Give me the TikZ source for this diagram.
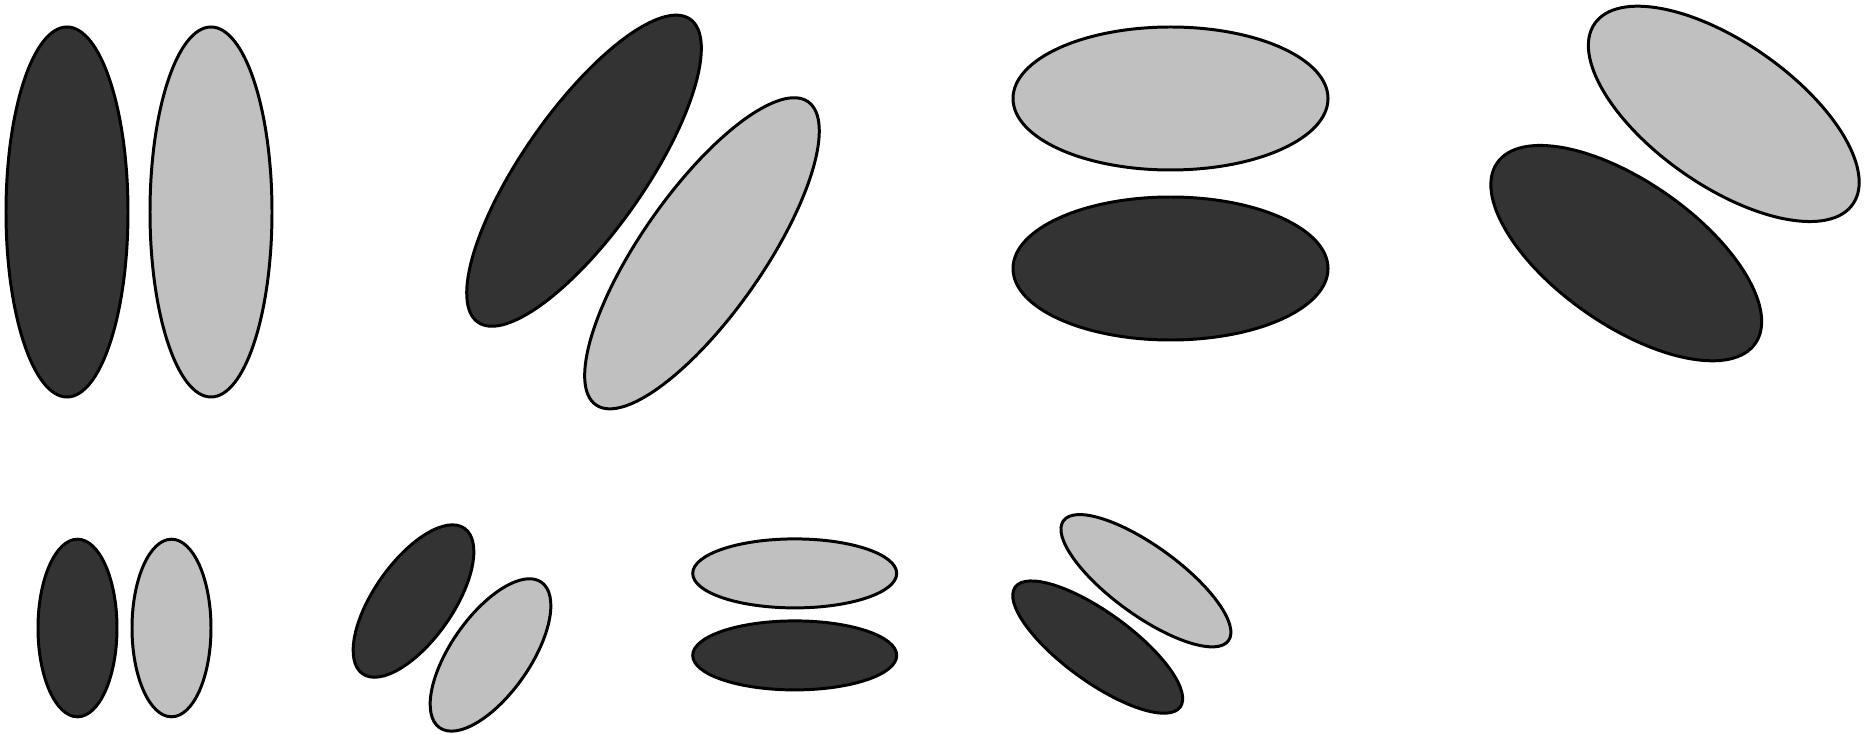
\documentclass[tikz,border=0pt]{standalone}
\usepackage{tikz}

\definecolor{lobedark}{HTML}{333333}
\definecolor{lobelight}{HTML}{C0C0C0}

\tikzset{
  darklobe/.style={draw=black, fill=lobedark, line width=0.85pt},
  lightlobe/.style={draw=black, fill=lobelight, line width=0.85pt}
}

\begin{document}
\begin{tikzpicture}
  % Page frame (keeps the margins)
  \useasboundingbox (0,0) rectangle (18.71,7.33);

  % Large lobes, side by side: upright and tilted
  \foreach \cx/\cy/\ang in {1.39/5.21/0, 6.43/5.21/-35} {
    \begin{scope}[shift={(\cx,\cy)}, rotate=\ang]
      \draw[darklobe] (-0.72,0) ellipse (0.61 and 1.85);
      \draw[lightlobe] (0.72,0) ellipse (0.61 and 1.85);
    \end{scope}
  }

  % Large lobes, stacked: flat and tilted
  \foreach \cx/\cy/\ang in {11.705/5.495/0, 16.75/5.495/-35} {
    \begin{scope}[shift={(\cx,\cy)}, rotate=\ang]
      \draw[lightlobe] (0,0.85) ellipse (1.575 and 0.715);
      \draw[darklobe] (0,-0.85) ellipse (1.575 and 0.715);
    \end{scope}
  }

  % Small lobes, side by side
  \foreach \cx/\cy/\ang in {1.245/1.05/0, 4.52/1.05/-35} {
    \begin{scope}[shift={(\cx,\cy)}, rotate=\ang]
      \draw[darklobe] (-0.47,0) ellipse (0.395 and 0.888);
      \draw[lightlobe] (0.47,0) ellipse (0.395 and 0.888);
    \end{scope}
  }

  % Small lobes, stacked
  \foreach \cx/\cy/\ang in {7.947/1.186/0, 11.218/1.191/-36} {
    \begin{scope}[shift={(\cx,\cy)}, rotate=\ang]
      \draw[lightlobe] (0,0.41) ellipse (1.02 and 0.345);
      \draw[darklobe] (0,-0.41) ellipse (1.02 and 0.345);
    \end{scope}
  }
\end{tikzpicture}
\end{document}
